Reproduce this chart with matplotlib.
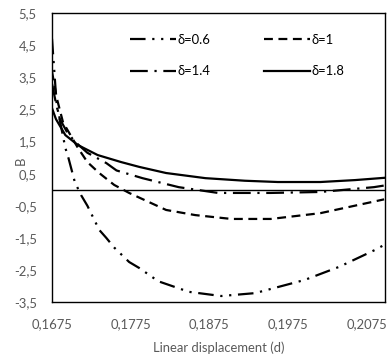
import matplotlib
matplotlib.use('Agg')
import matplotlib.pyplot as plt

# Data
x_06 = [0.1675, 0.1681, 0.1692, 0.1696, 0.1704, 0.1712, 0.1720, 0.1735, 0.1744, 0.1754,
        0.1773, 0.1786, 0.1810, 0.1849, 0.1890, 0.1933, 0.1996, 0.2040, 0.2085, 0.2097]
b_06 = [4.7, 2.64, 1.3, 0.98, 0.24, -0.17, -0.5, -1.25, -1.5, -1.8,
        -2.25, -2.44, -2.85, -3.18, -3.31, -3.22, -2.81, -2.4, -1.88, -1.72]

x_10 = [0.1675, 0.1681, 0.1689, 0.1708, 0.1720, 0.1735, 0.1754, 0.1773, 0.1820, 0.1857,
        0.1903, 0.1953, 0.2016, 0.2097]
b_10 = [3.68, 2.86, 2.1, 1.3, 0.86, 0.52, 0.15, -0.1, -0.63, -0.79,
        -0.91, -0.91, -0.73, -0.3]

x_14 = [0.1675, 0.1680, 0.1685, 0.1694, 0.1704, 0.1720, 0.1744, 0.1757, 0.1790, 0.1836,
        0.1886, 0.1953, 0.2016, 0.2084, 0.2097]
b_14 = [3.3, 2.7, 2.2, 1.8, 1.5, 1.15, 0.83, 0.6, 0.36, 0.08,
        -0.1, -0.1, -0.07, 0.08, 0.13]

x_18 = [0.1675, 0.1680, 0.1692, 0.1708, 0.1733, 0.1763, 0.1786, 0.1820, 0.1870, 0.1920,
        0.1962, 0.2016, 0.2060, 0.2097]
b_18 = [2.54, 2.2, 1.7, 1.39, 1.08, 0.86, 0.71, 0.52, 0.36, 0.28,
        0.24, 0.24, 0.3, 0.37]

x_ticks = [0.1675, 0.1775, 0.1875, 0.1975, 0.2075]
x_labels = ['0,1675', '0,1775', '0,1875', '0,1975', '0,2075']
y_ticks = [5.5, 4.5, 3.5, 2.5, 1.5, 0.5, -0.5, -1.5, -2.5, -3.5]
y_labels = ['5,5', '4,5', '3,5', '2,5', '1,5', '0,5', '-0,5', '-1,5', '-2,5', '-3,5']

TEXT = '#595959'
FS = 9.4
plt.rcParams['font.family'] = ['Lato', 'DejaVu Sans']

fig = plt.figure(figsize=(3.88, 3.64), dpi=100)
ax = fig.add_axes([0.134, 0.170, 0.858, 0.794])

lw = 1.6
l06, = ax.plot(x_06, b_06, color='black', lw=lw, linestyle=(0, (7, 3, 1, 3, 1, 3)), label='δ=0.6')
l10, = ax.plot(x_10, b_10, color='black', lw=lw, linestyle=(0, (4, 2.5)), label='δ=1')
l14, = ax.plot(x_14, b_14, color='black', lw=lw, linestyle=(0, (8, 3, 1, 3)), label='δ=1.4')
l18, = ax.plot(x_18, b_18, color='black', lw=lw, linestyle='-', label='δ=1.8')
ax.axhline(0, color='black', lw=1)

ax.set_xlim(0.1675, 0.2098)
ax.set_ylim(-3.5, 5.5)
ax.set_xticks(x_ticks)
ax.set_xticklabels(x_labels)
ax.set_yticks(y_ticks)
ax.set_yticklabels(y_labels)
ax.tick_params(length=0, labelsize=FS, colors=TEXT)
ax.tick_params(axis='x', pad=11.5)
ax.tick_params(axis='y', pad=11)
for s in ax.spines.values():
    s.set_color('black')
    s.set_linewidth(1)

ax.set_xlabel('Linear displacement (d)', fontsize=FS, color=TEXT, labelpad=8.5)
ax.set_ylabel('B', fontsize=FS, color=TEXT)
ax.yaxis.set_label_coords(-0.075, 0.49)

# legend filled row by row: 0.6, 1 / 1.4, 1.8
handles = [l06, l14, l10, l18]
ax.legend(handles=handles, labels=[h.get_label() for h in handles],
          loc='upper left', bbox_to_anchor=(0.335, 0.907), bbox_transform=fig.transFigure,
          ncol=2, frameon=False, borderpad=0, borderaxespad=0,
          fontsize=FS, handlelength=3.5, handletextpad=0.15, columnspacing=4.1,
          labelspacing=1.5, labelcolor='black')

fig.savefig('out.png', dpi=100)
